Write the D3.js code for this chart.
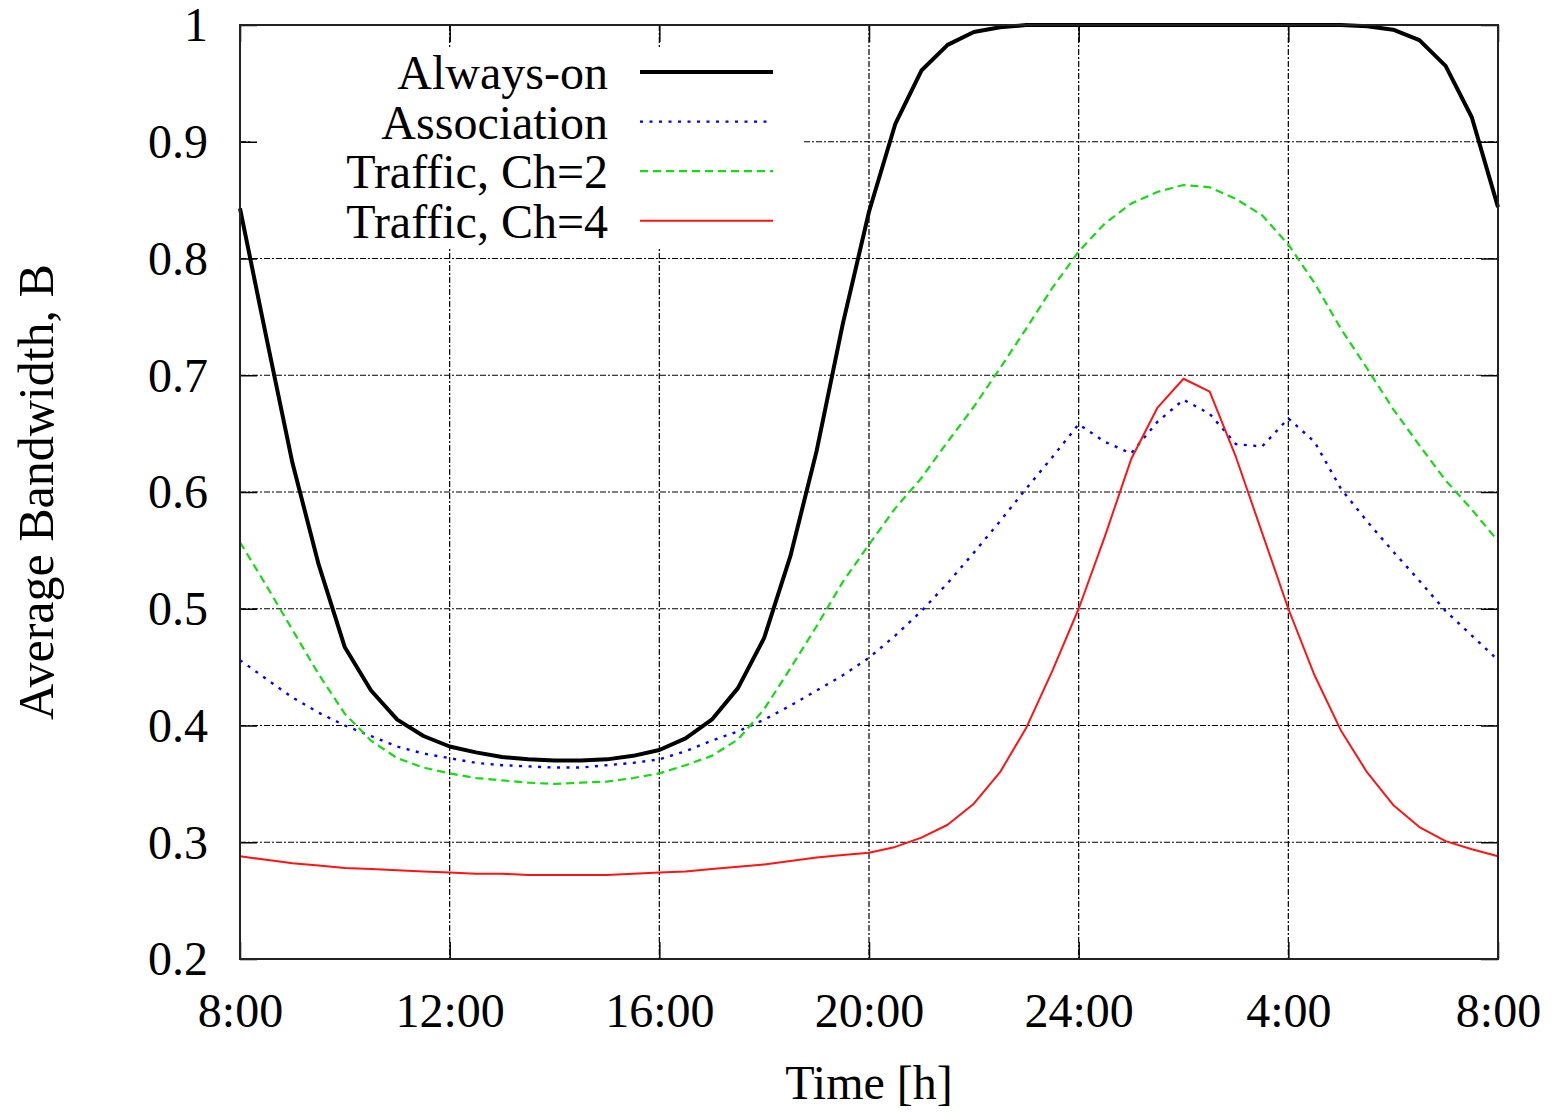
<!DOCTYPE html>
<html>
<head>
<meta charset="utf-8">
<script src="https://cdn.jsdelivr.net/npm/d3@7"></script>
<style>
  body { margin: 0; background: #fff; }
</style>
</head>
<body>
<div id="chart"></div>
<script>
// time of day in hours (8 = 8:00, 32 = 8:00 next morning)
const hours = [8, 8.5, 9, 9.5, 10, 10.5, 11, 11.5, 12, 12.5, 13, 13.5, 14, 14.5, 15, 15.5,
  16, 16.5, 17, 17.5, 18, 18.5, 19, 19.5, 20, 20.5, 21, 21.5, 22, 22.5, 23, 23.5,
  24, 24.5, 25, 25.5, 26, 26.5, 27, 27.5, 28, 28.5, 29, 29.5, 30, 30.5, 31, 31.5, 32];

const alwaysOn = [0.843, 0.733, 0.625, 0.538, 0.467, 0.430, 0.405, 0.391,
  0.382, 0.377, 0.373, 0.371, 0.370, 0.370, 0.371, 0.374,
  0.379, 0.389, 0.405, 0.432, 0.475, 0.545, 0.635, 0.744,
  0.840, 0.915, 0.961, 0.983, 0.994, 0.998, 1.0, 1.0,
  1.0, 1.0, 1.0, 1.0, 1.0, 1.0, 1.0, 1.0,
  1.0, 1.0, 1.0, 0.999, 0.996, 0.987, 0.965, 0.921, 0.844];

const association = [0.456, 0.440, 0.424, 0.411, 0.400, 0.391, 0.382, 0.376,
  0.372, 0.368, 0.366, 0.365, 0.364, 0.364, 0.366, 0.368,
  0.371, 0.378, 0.387, 0.395, 0.405, 0.417, 0.430, 0.443,
  0.458, 0.477, 0.498, 0.522, 0.548, 0.575, 0.603, 0.630,
  0.658, 0.643, 0.633, 0.660, 0.679, 0.667, 0.641, 0.639,
  0.663, 0.643, 0.603, 0.575, 0.549, 0.524, 0.498, 0.477, 0.456];

const trafficCh2 = [0.557, 0.520, 0.482, 0.444, 0.410, 0.387, 0.372, 0.364,
  0.359, 0.355, 0.353, 0.351, 0.350, 0.351, 0.352, 0.355,
  0.359, 0.366, 0.374, 0.388, 0.414, 0.449, 0.485, 0.523,
  0.555, 0.586, 0.612, 0.643, 0.673, 0.706, 0.740, 0.775,
  0.806, 0.830, 0.847, 0.857, 0.863, 0.861, 0.851, 0.837,
  0.812, 0.779, 0.740, 0.706, 0.671, 0.640, 0.610, 0.585, 0.558];

const trafficCh4 = [0.288, 0.285, 0.282, 0.280, 0.278, 0.277, 0.276, 0.275,
  0.274, 0.273, 0.273, 0.272, 0.272, 0.272, 0.272, 0.273,
  0.274, 0.275, 0.277, 0.279, 0.281, 0.284, 0.287, 0.289,
  0.291, 0.296, 0.304, 0.315, 0.333, 0.360, 0.398, 0.447,
  0.500, 0.562, 0.628, 0.672, 0.697, 0.686, 0.630, 0.565,
  0.500, 0.443, 0.396, 0.360, 0.332, 0.313, 0.301, 0.294, 0.288];

const xTicks = [8, 12, 16, 20, 24, 28, 32];
const xTickLabels = ["8:00", "12:00", "16:00", "20:00", "24:00", "4:00", "8:00"];
const yTicks = [0.2, 0.3, 0.4, 0.5, 0.6, 0.7, 0.8, 0.9, 1];
const yTickLabels = ["0.2", "0.3", "0.4", "0.5", "0.6", "0.7", "0.8", "0.9", "1"];

const seriesNames = ["Always-on", "Association", "Traffic, Ch=2", "Traffic, Ch=4"];
const seriesValues = [alwaysOn, association, trafficCh2, trafficCh4];

// line look for each series
const styles = [
  {color: "#000000", width: 4, dash: null},
  {color: "#0000ff", width: 2.4, dash: "3,6.5"},
  {color: "#11dd11", width: 2.2, dash: "8,5"},
  {color: "#ff1414", width: 2, dash: null}
];

const font = "'Liberation Serif', 'Times New Roman', serif";

const width = 1555, height = 1112;
const margin = {top: 25, right: 57, bottom: 153, left: 240};
const plotW = width - margin.left - margin.right;
const plotH = height - margin.top - margin.bottom;

const svg = d3.select("#chart")
  .append("svg")
  .attr("width", width)
  .attr("height", height)
  .style("font-family", font);

const g = svg.append("g")
  .attr("transform", "translate(" + margin.left + "," + margin.top + ")");

const x = d3.scaleLinear().domain([8, 32]).range([0, plotW]);
const y = d3.scaleLinear().domain([0.2, 1]).range([plotH, 0]);

// grid lines
const gridDash = "6,2,2,2";
g.selectAll(".vgrid")
  .data(xTicks.slice(1, -1))
  .enter()
  .append("line")
  .attr("x1", (d) => x(d)).attr("x2", (d) => x(d))
  .attr("y1", 0).attr("y2", plotH)
  .style("stroke", "#000").style("stroke-width", 1.2)
  .style("stroke-dasharray", gridDash);

g.selectAll(".hgrid")
  .data(yTicks.slice(1, -1))
  .enter()
  .append("line")
  .attr("x1", 0).attr("x2", plotW)
  .attr("y1", (d) => y(d)).attr("y2", (d) => y(d))
  .style("stroke", "#000").style("stroke-width", 1.2)
  .style("stroke-dasharray", gridDash);

// opaque key background
g.append("rect")
  .attr("x", 12).attr("y", 22)
  .attr("width", 551).attr("height", 200)
  .style("fill", "#fff");

// curves
const line = d3.line()
  .x((d, i) => x(hours[i]))
  .y((d) => y(d));

g.selectAll(".series")
  .data(seriesValues)
  .enter()
  .append("path")
  .attr("d", line)
  .style("fill", "none")
  .style("stroke", (d, i) => styles[i].color)
  .style("stroke-width", (d, i) => styles[i].width)
  .style("stroke-dasharray", (d, i) => styles[i].dash)
  .style("stroke-linejoin", "round");

// axes: ticks point inwards, mirrored on top and right
const tickLen = 17;

const xAxis = g.append("g")
  .attr("transform", "translate(0," + plotH + ")")
  .call(d3.axisBottom(x).tickValues(xTicks).tickSizeInner(-tickLen).tickSizeOuter(0)
    .tickFormat((d, i) => xTickLabels[i]));
xAxis.selectAll("text")
  .attr("y", 68).attr("dy", null)
  .style("font-size", "48px");

g.append("g")
  .call(d3.axisTop(x).tickValues(xTicks).tickSizeInner(-tickLen).tickSizeOuter(0).tickFormat(""));

const yAxis = g.append("g")
  .call(d3.axisLeft(y).tickValues(yTicks).tickSizeInner(-tickLen).tickSizeOuter(0).tickPadding(32)
    .tickFormat((d, i) => yTickLabels[i]));
yAxis.selectAll("text")
  .attr("dy", "0.33em")
  .style("font-size", "48px");

g.append("g")
  .attr("transform", "translate(" + plotW + ",0)")
  .call(d3.axisRight(y).tickValues(yTicks).tickSizeInner(-tickLen).tickSizeOuter(0).tickFormat(""));

g.selectAll(".domain").remove();
g.selectAll(".tick line").style("stroke", "#000").style("stroke-width", 1.5);
svg.selectAll("text").style("font-family", font).style("fill", "#000");

// border
g.append("rect")
  .attr("width", plotW).attr("height", plotH)
  .style("fill", "none")
  .style("stroke", "#222")
  .style("stroke-width", 2);

// axis titles
svg.append("text")
  .attr("x", margin.left + plotW / 2)
  .attr("y", 1099)
  .attr("text-anchor", "middle")
  .style("font-family", font)
  .style("font-size", "48px")
  .text("Time [h]");

svg.append("text")
  .attr("transform", "translate(53,492) rotate(-90)")
  .attr("text-anchor", "middle")
  .style("font-family", font)
  .style("font-size", "50px")
  .text("Average Bandwidth, B");

// legend
const legendRow = 49.6;
const legend = svg.append("g")
  .attr("transform", "translate(0,72)");

const items = legend.selectAll(".item")
  .data(seriesNames)
  .enter()
  .append("g")
  .attr("transform", (d, i) => "translate(0," + (i * legendRow) + ")");

items.append("text")
  .attr("x", 608)
  .attr("y", 17)
  .attr("text-anchor", "end")
  .style("font-family", font)
  .style("font-size", "48px")
  .text((d) => d);

items.append("line")
  .attr("x1", 640).attr("x2", 773)
  .attr("y1", 0).attr("y2", 0)
  .style("stroke", (d, i) => styles[i].color)
  .style("stroke-width", (d, i) => styles[i].width)
  .style("stroke-dasharray", (d, i) => styles[i].dash);
</script>
</body>
</html>
